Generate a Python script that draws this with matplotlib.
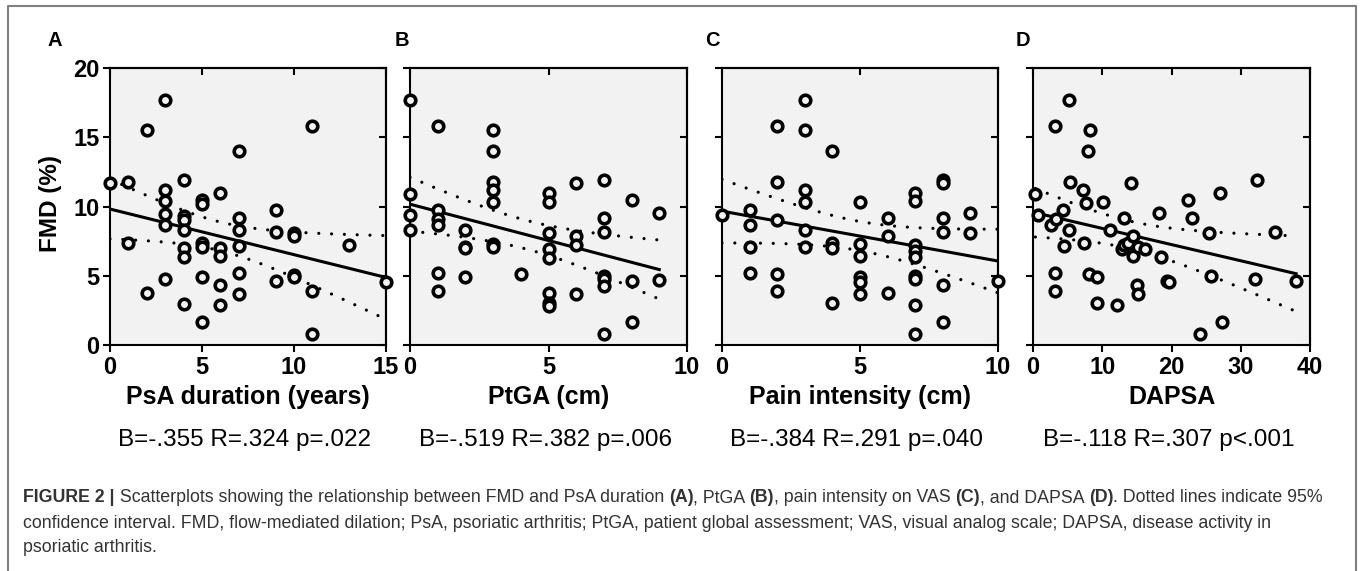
import numpy as np
import matplotlib
matplotlib.use("Agg")
import matplotlib.pyplot as plt
from matplotlib.lines import Line2D

plt.rcParams['font.family'] = ['Liberation Sans', 'DejaVu Sans']

# ---------------- data ----------------
A_x = [0, 1, 1, 2, 2, 3, 3, 3, 3, 3, 3, 4, 4, 4, 4, 4, 4, 4, 5, 5, 5, 5, 5, 5,
       6, 6, 6, 6, 6, 7, 7, 7, 7, 7, 7, 9, 9, 9, 10, 10, 10, 10, 11, 11, 11, 13, 15]
A_y = [11.73, 11.78, 7.33, 15.5, 3.73, 17.66, 11.16, 10.41, 9.45, 8.65, 4.77,
       11.9, 9.3, 9.0, 8.29, 6.99, 6.34, 2.99, 10.46, 10.19, 7.35, 7.1, 4.89, 1.66,
       11.01, 6.99, 6.39, 4.34, 2.87, 13.98, 9.2, 8.27, 7.16, 5.23, 3.66,
       9.73, 8.19, 4.65, 8.07, 7.88, 5.06, 4.94, 15.78, 3.9, 0.77, 7.23, 4.58]

B_x = [0, 0, 0, 0, 1, 1, 1, 1, 1, 1, 2, 2, 2, 2, 3, 3, 3, 3, 3, 3, 3, 4,
       5, 5, 5, 5, 5, 5, 5, 5, 6, 6, 6, 6, 7, 7, 7, 7, 7, 7, 7, 8, 8, 8, 9, 9]
B_y = [17.66, 10.89, 9.4, 8.27, 15.78, 9.76, 9.08, 8.67, 5.23, 3.9,
       8.27, 7.1, 6.99, 4.89, 15.5, 13.98, 11.8, 11.16, 10.29, 7.3, 7.1, 5.13,
       11.01, 10.36, 8.07, 6.92, 6.31, 3.78, 3.01, 2.82, 11.73, 7.88, 7.23, 3.66,
       11.9, 9.18, 8.14, 4.99, 4.75, 4.29, 0.77, 10.46, 4.63, 1.66, 9.52, 4.7]

C_x = [0, 1, 1, 1, 1, 2, 2, 2, 2, 2, 3, 3, 3, 3, 3, 3, 4, 4, 4, 4,
       5, 5, 5, 5, 5, 5, 6, 6, 6, 7, 7, 7, 7, 7, 7, 7, 7, 7,
       8, 8, 8, 8, 8, 8, 9, 9, 10]
C_y = [9.4, 9.76, 8.63, 7.1, 5.23, 15.78, 11.8, 9.04, 5.13, 3.9,
       17.66, 15.5, 11.16, 10.29, 8.27, 7.1, 13.98, 7.4, 6.99, 3.01,
       10.36, 7.3, 6.39, 4.94, 4.58, 3.66, 9.2, 7.88, 3.73,
       11.01, 10.41, 7.23, 6.82, 6.34, 4.99, 4.75, 2.87, 0.77,
       11.9, 11.73, 9.18, 8.19, 4.34, 1.66, 9.52, 8.07, 4.65]

D_x = [0.34, 0.72, 2.64, 3.31, 3.21, 3.21, 3.21, 4.27, 4.5, 5.13, 5.18, 5.28,
       7.15, 7.39, 7.63, 8.01, 8.25, 8.15, 9.3, 9.3, 10.17, 11.13, 12.09,
       13.14, 12.8, 13.19, 13.76, 14.15, 14.48, 14.39, 14.96, 15.2, 15.2,
       16.16, 18.18, 18.47, 19.38, 19.66, 22.4, 23.0, 24.08, 25.37, 25.66,
       27.05, 27.34, 32.04, 32.33, 34.96, 37.99]
D_y = [10.89, 9.4, 8.63, 9.08, 15.78, 5.23, 3.9, 9.76, 7.16, 8.27, 17.66, 11.8,
       11.16, 7.33, 10.24, 13.98, 15.5, 5.13, 4.89, 3.01, 10.36, 8.27, 2.87,
       9.2, 6.92, 7.23, 7.35, 11.73, 7.88, 6.39, 4.34, 7.1, 3.66,
       6.92, 9.52, 6.34, 4.65, 4.58, 10.46, 9.18, 0.77, 8.07, 4.99,
       11.01, 1.66, 4.77, 11.9, 8.19, 4.65]

panel_letters = ["A", "B", "C", "D"]
x_labels = ["PsA duration (years)", "PtGA (cm)", "Pain intensity (cm)", "DAPSA"]
x_limits = [(0, 15), (0, 10), (0, 10), (0, 40)]
x_ticks = [[0, 5, 10, 15], [0, 5, 10], [0, 5, 10], [0, 10, 20, 30, 40]]
y_ticks = [0, 5, 10, 15, 20]
stats = ["B=-.355 R=.324 p=.022", "B=-.519 R=.382 p=.006",
         "B=-.384 R=.291 p=.040", "B=-.118 R=.307 p<.001"]
y_label = "FMD (%)"

caption_lines = [
    [("FIGURE 2 |", True),
     (" Scatterplots showing the relationship between FMD and PsA duration ", False),
     ("(A)", True), (", PtGA ", False), ("(B)", True),
     (", pain intensity on VAS ", False), ("(C)", True), (", and DAPSA ", False),
     ("(D)", True), (". Dotted lines indicate 95%", False)],
    [("confidence interval. FMD, flow-mediated dilation; PsA, psoriatic arthritis; "
      "PtGA, patient global assessment; VAS, visual analog scale; DAPSA, disease activity in", False)],
    [("psoriatic arthritis.", False)],
]

datasets = [(A_x, A_y), (B_x, B_y), (C_x, C_y), (D_x, D_y)]

# ---------------- layout ----------------
W, H = 1360, 571
fig = plt.figure(figsize=(W / 100, H / 100), dpi=100)
fig.patch.set_facecolor("white")

ax_px = [(110, 386), (410, 687), (722, 998), (1033, 1310)]
top_px, bot_px = 68, 345


def fx(px):
    return px / W


def fy(py):
    return 1 - py / H


for i, ((x, y), (l, r)) in enumerate(zip(datasets, ax_px)):
    ax = fig.add_axes([fx(l), fy(bot_px), fx(r - l), (bot_px - top_px) / H])
    ax.set_facecolor("#f2f2f2")
    x = np.asarray(x, float)
    y = np.asarray(y, float)
    ax.set_xlim(*x_limits[i])
    ax.set_ylim(0, 20)
    ax.set_xticks(x_ticks[i])
    ax.set_yticks(y_ticks)
    for s in ax.spines.values():
        s.set_linewidth(1.5)
        s.set_color("black")
    ax.tick_params(direction="out", length=5, width=1.5, labelsize=17)
    ax.tick_params(axis="x", pad=3)
    ax.tick_params(axis="y", pad=2.5)
    for lab in ax.get_xticklabels() + ax.get_yticklabels():
        lab.set_fontweight("bold")
    if i > 0:
        ax.set_yticklabels([])
    # mirrored inward ticks on top / right
    sx = ax.secondary_xaxis("top")
    sx.set_xticks(x_ticks[i])
    sx.tick_params(direction="in", length=5, width=1.5, labeltop=False)
    sx.spines["top"].set_linewidth(1.5)
    sy = ax.secondary_yaxis("right")
    sy.set_yticks(y_ticks)
    sy.tick_params(direction="in", length=5, width=1.5, labelright=False)
    sy.spines["right"].set_linewidth(1.5)

    # regression and 95% CI
    n = len(x)
    b, a = np.polyfit(x, y, 1)
    xs = np.linspace(x.min(), x.max(), 200)
    yhat = a + b * xs
    resid = y - (a + b * x)
    s_err = np.sqrt(np.sum(resid ** 2) / (n - 2))
    sxx = np.sum((x - x.mean()) ** 2)
    half = 2.0 * s_err * np.sqrt(1 / n + (xs - x.mean()) ** 2 / sxx)
    ax.plot(xs, yhat, color="black", lw=2.2, zorder=3)
    for sign in (1, -1):
        ax.plot(xs, yhat + sign * half, color="black", lw=2.3,
                linestyle=(0, (0.01, 4.0)), dash_capstyle="round", zorder=3)

    ax.plot(x, y, linestyle="none", marker="o", ms=7.6, mew=2.6,
            mec="black", mfc="#f2f2f2", zorder=4, clip_on=False)

    cx = (l + r) / 2
    fig.text(fx(cx), fy(397), x_labels[i], ha="center", va="center",
             fontsize=18, fontweight="bold")
    fig.text(fx(cx - 3), fy(440), stats[i], ha="center", va="center",
             fontsize=17.5)

letter_px = [55, 402, 712, 1023]
for lt, px in zip(panel_letters, letter_px):
    fig.text(fx(px), fy(40), lt, ha="center", va="center", fontsize=14.5,
             fontweight="bold")

fig.text(fx(51), fy(204), y_label, rotation=90, ha="center", va="center",
         fontsize=17.5, fontweight="bold")

# border (left, top, right)
border = Line2D([fx(8), fx(8), fx(1356), fx(1356)], [0, fy(6), fy(6), 0],
                transform=fig.transFigure, color="#7f7f7f", lw=1.5)
fig.add_artist(border)

# caption with mixed weights
renderer = fig.canvas.get_renderer()
cap_size = 12.8
cap_color = "#333333"


def text_width(s, bold):
    w = "bold" if bold else "normal"
    t1 = fig.text(0, 0, "x" + s + "x", fontsize=cap_size, fontweight=w)
    t2 = fig.text(0, 0, "xx", fontsize=cap_size, fontweight=w)
    w1 = t1.get_window_extent(renderer).width
    w2 = t2.get_window_extent(renderer).width
    t1.remove()
    t2.remove()
    return w1 - w2


cap_y = [498, 523, 548]
for line, yy in zip(caption_lines, cap_y):
    xp = 23
    for s, bold in line:
        fig.text(fx(xp), fy(yy), s, ha="left", va="center", fontsize=cap_size,
                 fontweight="bold" if bold else "normal", color=cap_color)
        xp += text_width(s, bold)

fig.savefig("out.png", dpi=100, facecolor="white")
